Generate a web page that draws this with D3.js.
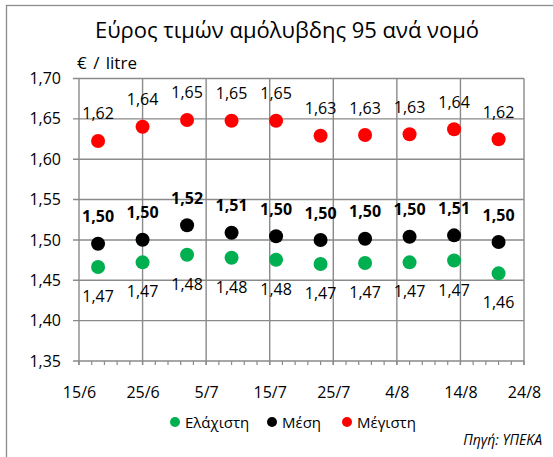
<!DOCTYPE html>
<html>
<head>
<meta charset="utf-8">
<script src="https://cdnjs.cloudflare.com/ajax/libs/d3/7.8.5/d3.min.js"></script>
<style>
  body { margin: 0; background: #fff; }
  svg text { font-family: "Open Sans", "Noto Sans", sans-serif; fill: #000; }
</style>
</head>
<body>
<script>
// weekly observations (2012)
var dates = ["18/6", "25/6", "2/7", "9/7", "16/7", "23/7", "30/7", "6/8", "13/8", "20/8"];
var minPrice = [1.4664, 1.4722, 1.4817, 1.4779, 1.4755, 1.4701, 1.4714, 1.4722, 1.4745, 1.4586];
var meanPrice = [1.4953, 1.5003, 1.5181, 1.5089, 1.5045, 1.4999, 1.5015, 1.5040, 1.5057, 1.4974];
var maxPrice = [1.6226, 1.6403, 1.6486, 1.6477, 1.6477, 1.6291, 1.6300, 1.6309, 1.6371, 1.6247];
var yTicks = [1.35, 1.40, 1.45, 1.50, 1.55, 1.60, 1.65, 1.70];
var seriesNames = ["Ελάχιστη", "Μέση", "Μέγιστη"];
var seriesColors = ["#00b050", "#000000", "#ff0000"];

var width = 553, height = 457;
var parse = d3.timeParse("%d/%m/%Y");
var days = dates.map(function (d) { return parse(d + "/2012"); });
var x0 = parse("15/6/2012"), x1 = parse("24/8/2012");

var x = d3.scaleTime().domain([x0, x1]).range([79, 524]);
var y = d3.scaleLinear().domain([1.35, 1.70]).range([361, 78.5]);
var comma = function (v) { return d3.format(".2f")(v).replace(".", ","); };

var svg = d3.select("body").append("svg")
  .attr("width", width)
  .attr("height", height);

svg.append("rect")
  .attr("width", width).attr("height", height)
  .attr("fill", "#fff");

// chart frame (right and bottom edges fall outside the picture)
svg.append("rect")
  .attr("x", 6.5).attr("y", 5.5)
  .attr("width", 560).attr("height", 470)
  .attr("fill", "none")
  .attr("stroke", "#8c8c8c")
  .attr("stroke-width", 1.3);

svg.append("text")
  .attr("x", 287).attr("y", 38)
  .attr("text-anchor", "middle")
  .style("font-size", "22px")
  .text("Εύρος τιμών αμόλυβδης 95 ανά νομό");

svg.append("text")
  .attr("x", 77).attr("y", 69)
  .style("font-size", "17px")
  .style("word-spacing", "2px")
  .text("€ / litre");

var gridColor = "#8a8a8a";
var majorDays = d3.timeDay.range(x0, d3.timeDay.offset(x1, 1), 10);
var minorDays = d3.timeDay.range(x0, d3.timeDay.offset(x1, 1), 2);

// horizontal grid
svg.append("g")
  .selectAll("line")
  .data(yTicks).enter()
  .append("line")
  .attr("x1", 73).attr("x2", x(x1))
  .attr("y1", function (d) { return y(d); })
  .attr("y2", function (d) { return y(d); })
  .attr("stroke", gridColor)
  .attr("stroke-width", 1.4);

// vertical grid
svg.append("g")
  .selectAll("line")
  .data(majorDays).enter()
  .append("line")
  .attr("x1", function (d) { return x(d); })
  .attr("x2", function (d) { return x(d); })
  .attr("y1", y(1.70)).attr("y2", y(1.35) + 4)
  .attr("stroke", gridColor)
  .attr("stroke-width", 1.4);

// minor ticks on the date axis
svg.append("g")
  .selectAll("line")
  .data(minorDays).enter()
  .append("line")
  .attr("x1", function (d) { return x(d); })
  .attr("x2", function (d) { return x(d); })
  .attr("y1", y(1.35)).attr("y2", y(1.35) + 4)
  .attr("stroke", gridColor)
  .attr("stroke-width", 1.2);

var xAxis = d3.axisBottom(x)
  .tickValues(majorDays)
  .tickFormat(d3.timeFormat("%-d/%-m"))
  .tickSize(0)
  .tickPadding(25.5);

svg.append("g")
  .attr("transform", "translate(0," + y(1.35) + ")")
  .call(xAxis)
  .call(function (g) { g.select(".domain").remove(); })
  .selectAll("text")
  .style("font-size", "16px");

var yAxis = d3.axisLeft(y)
  .tickValues(yTicks)
  .tickFormat(comma)
  .tickSize(0)
  .tickPadding(18);

svg.append("g")
  .attr("transform", "translate(" + x(x0) + ",0)")
  .call(yAxis)
  .call(function (g) { g.select(".domain").remove(); })
  .selectAll("text")
  .style("font-size", "16px");

// series
var series = [
  { values: minPrice, color: seriesColors[0], dy: 35, bold: false },
  { values: meanPrice, color: seriesColors[1], dy: -21.5, bold: true },
  { values: maxPrice, color: seriesColors[2], dy: -21.5, bold: false }
];

series.forEach(function (s) {
  var pts = s.values.map(function (v, i) { return { date: days[i], value: v }; });
  var g = svg.append("g");
  g.selectAll("circle")
    .data(pts).enter()
    .append("circle")
    .attr("cx", function (d) { return x(d.date); })
    .attr("cy", function (d) { return y(d.value); })
    .attr("r", 7)
    .attr("fill", s.color);
  g.selectAll("text")
    .data(pts).enter()
    .append("text")
    .attr("x", function (d) { return x(d.date); })
    .attr("y", function (d) { return y(d.value) + s.dy; })
    .attr("text-anchor", "middle")
    .style("font-size", "16px")
    .style("font-weight", s.bold ? "bold" : "normal")
    .text(function (d) { return comma(d.value); });
});

// legend
var legendX = [175, 272, 347];
var legend = svg.append("g")
  .selectAll("g")
  .data(seriesNames).enter()
  .append("g")
  .attr("transform", function (d, i) { return "translate(" + legendX[i] + ",422)"; });

legend.append("circle")
  .attr("r", 5)
  .attr("fill", function (d, i) { return seriesColors[i]; });

legend.append("text")
  .attr("x", 10).attr("y", 5.5)
  .style("font-size", "15px")
  .text(function (d) { return d; });

svg.append("text")
  .attr("x", 542).attr("y", 445)
  .attr("text-anchor", "end")
  .style("font-size", "14px")
  .style("font-style", "italic")
  .text("Πηγή: ΥΠΕΚΑ");
</script>
</body>
</html>
